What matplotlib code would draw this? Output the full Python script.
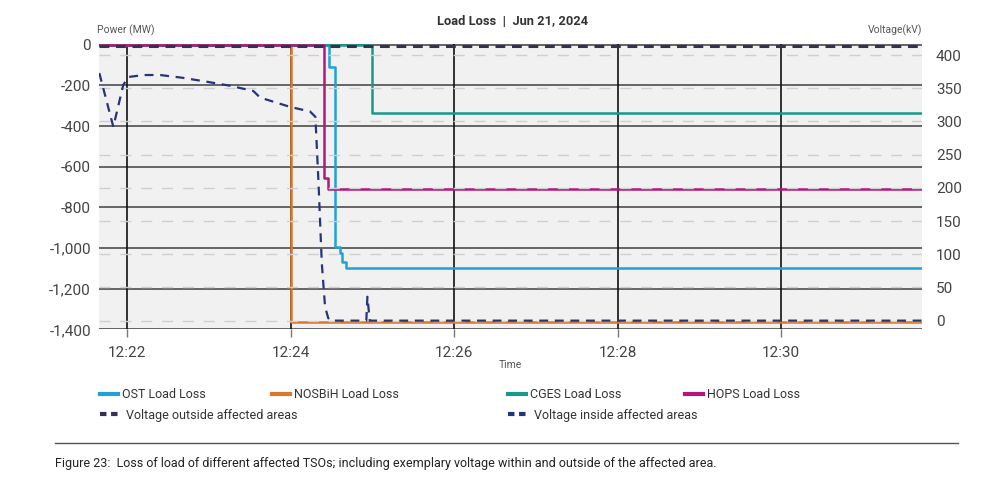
import matplotlib
matplotlib.use("Agg")
import matplotlib.pyplot as plt
import matplotlib.dates as mdates
import matplotlib.ticker as mticker
import matplotlib.lines as mlines
import pandas as pd

plt.rcParams['font.family'] = ['Roboto', 'DejaVu Sans']

day = "2024-06-21 "
# ---- data ----
ost_t = ["12:21:39", "12:24:28", "12:24:28", "12:24:32.5", "12:24:32.5", "12:24:36", "12:24:36",
         "12:24:38", "12:24:38", "12:24:40.5", "12:24:40.5", "12:31:44"]
ost_v = [0, 0, -107, -107, -994, -994, -1025, -1025, -1068, -1068, -1099, -1099]

nos_t = ["12:21:39", "12:24:00", "12:24:00", "12:31:44"]
nos_v = [0, 0, -1363, -1363]

cges_t = ["12:21:39", "12:25:00", "12:25:00", "12:31:44"]
cges_v = [0, 0, -337, -337]

hops_t = ["12:21:39", "12:24:24.7", "12:24:24.7", "12:24:27.2", "12:24:27.2", "12:31:44"]
hops_v = [0, 0, -657, -657, -711, -711]

vout_t = ["12:21:39", "12:31:44"]
vout_v = [414, 414]

vin_t = ["12:21:39.4", "12:21:49.7", "12:21:57", "12:22:00.7", "12:22:12", "12:22:24", "12:22:40",
         "12:22:58", "12:23:15", "12:23:32.5", "12:23:37.5", "12:23:59.5", "12:24:10", "12:24:14.2",
         "12:24:18.1", "12:24:20.3", "12:24:22.8", "12:24:25.2", "12:24:27.5", "12:24:29",
         "12:24:55.5", "12:24:56.3", "12:24:58", "12:31:44"]
vin_v = [373, 292, 355, 367, 370, 370, 366, 360, 354, 346, 336, 322, 317, 315,
         307, 212, 87, 21, 4, 0, 0, 36, 0, 0]

power_ticks = [0, -200, -400, -600, -800, -1000, -1200, -1400]
volt_ticks = [0, 50, 100, 150, 200, 250, 300, 350, 400]
time_ticks = ["12:22", "12:24", "12:26", "12:28", "12:30"]

title = "Load Loss  |  Jun 21, 2024"
caption = ("Figure 23:  Loss of load of different affected TSOs; including exemplary voltage "
           "within and outside of the affected area.")

C_OST = "#1fa2d6"
C_NOS = "#d9772b"
C_CGES = "#179a8b"
C_HOPS = "#b3167c"
C_VOUT = "#3b2f4f"
C_VIN = "#25357a"


def ts(lst):
    return pd.to_datetime([day + s for s in lst], format="mixed")


fig = plt.figure(figsize=(9.86, 4.99), dpi=100)
ax = fig.add_axes([0.1007, 0.340, 0.8344, 0.571])
ax2 = ax.twinx()
ax.set_zorder(1)
ax2.set_zorder(2)
ax.set_facecolor("#f1f1f1")
ax2.patch.set_visible(False)

xmin = pd.Timestamp(day + "12:21:39.4")
xmax = pd.Timestamp(day + "12:31:43.6")

ax.set_xlim(xmin, xmax)
ax.set_ylim(-1400, 2)
ax2.set_ylim(-13.1, 416.1)

# gridlines
for v in volt_ticks:
    ax2.axhline(v, color="#cfcfcf", lw=1.0, ls=(0, (8, 7)), zorder=0.5)
for p in power_ticks:
    ax.axhline(p, color="#5a5a5a", lw=1.3, zorder=0.6)
for t in time_ticks:
    ax.axvline(pd.Timestamp(day + t), color="#111111", lw=1.2, zorder=0.7)

ax.plot(ts(ost_t), ost_v, color=C_OST, lw=1.8, zorder=3)
ax.plot(ts(nos_t), nos_v, color=C_NOS, lw=1.8, zorder=3)
ax.plot(ts(cges_t), cges_v, color=C_CGES, lw=1.8, zorder=3)
ax.plot(ts(hops_t), hops_v, color=C_HOPS, lw=1.8, zorder=3)
ax2.plot(ts(vout_t), vout_v, color=C_VOUT, lw=2.2, ls=(0, (3.2, 2.2)), zorder=4)
ax2.plot(ts(vin_t), vin_v, color=C_VIN, lw=1.6, ls=(0, (4, 3)), zorder=4)

for a in (ax, ax2):
    for s in a.spines.values():
        s.set_visible(False)

ax.set_xticks(ts([t + ":00" for t in time_ticks]))
ax.xaxis.set_major_formatter(mdates.DateFormatter("%H:%M"))
ax.set_yticks(power_ticks)
ax.yaxis.set_major_formatter(mticker.FuncFormatter(lambda v, p: f"{int(v):,}"))
ax2.set_yticks(volt_ticks)

ax.tick_params(axis="x", length=6, width=1, color="#777777", labelsize=11,
               labelcolor="#444444", pad=6)
ax.tick_params(axis="y", length=0, labelsize=11, labelcolor="#444444", pad=6)
ax2.tick_params(axis="y", length=0, labelsize=11, labelcolor="#444444", pad=10)

fig.text(0.52, 0.956, title, ha="center", va="center", fontsize=9.3, fontweight="bold",
         color="#333333")
fig.text(0.098, 0.940, "Power (MW)", ha="left", va="center", fontsize=7.5, color="#555555")
fig.text(0.935, 0.940, "Voltage(kV)", ha="right", va="center", fontsize=7.5, color="#555555")
fig.text(0.518, 0.268, "Time", ha="center", va="center", fontsize=7.5, color="#555555")

# legend entries
entries = [
    ("OST Load Loss", C_OST, "-", 100, 395),
    ("NOSBiH Load Loss", C_NOS, "-", 272, 395),
    ("CGES Load Loss", C_CGES, "-", 508, 395),
    ("HOPS Load Loss", C_HOPS, "-", 685, 395),
    ("Voltage outside affected areas", C_VOUT, "--", 100, 415),
    ("Voltage inside affected areas", C_VIN, "--", 508, 415),
]
for label, col, ls, px, py in entries:
    if ls == "-":
        h = mlines.Line2D([], [], color=col, lw=3)
    else:
        h = mlines.Line2D([], [], color=col, lw=3, ls=(0, (1.55, 1.1)))
    leg = fig.legend([h], [label], loc="center left", bbox_to_anchor=(px / 986, 1 - py / 499),
                     frameon=False, fontsize=9, handlelength=1.4,
                     handletextpad=0.35 if ls == "-" else 0.7,
                     borderpad=0, borderaxespad=0)
    for tx in leg.get_texts():
        tx.set_color("#333333")

fig.add_artist(mlines.Line2D([55 / 986, 958 / 986], [1 - 443 / 499, 1 - 443 / 499],
                             color="#555555", lw=1))
fig.text(55 / 986, 1 - 463 / 499, caption, ha="left", va="center", fontsize=9, color="#222222")

fig.savefig("out.png", dpi=100)
